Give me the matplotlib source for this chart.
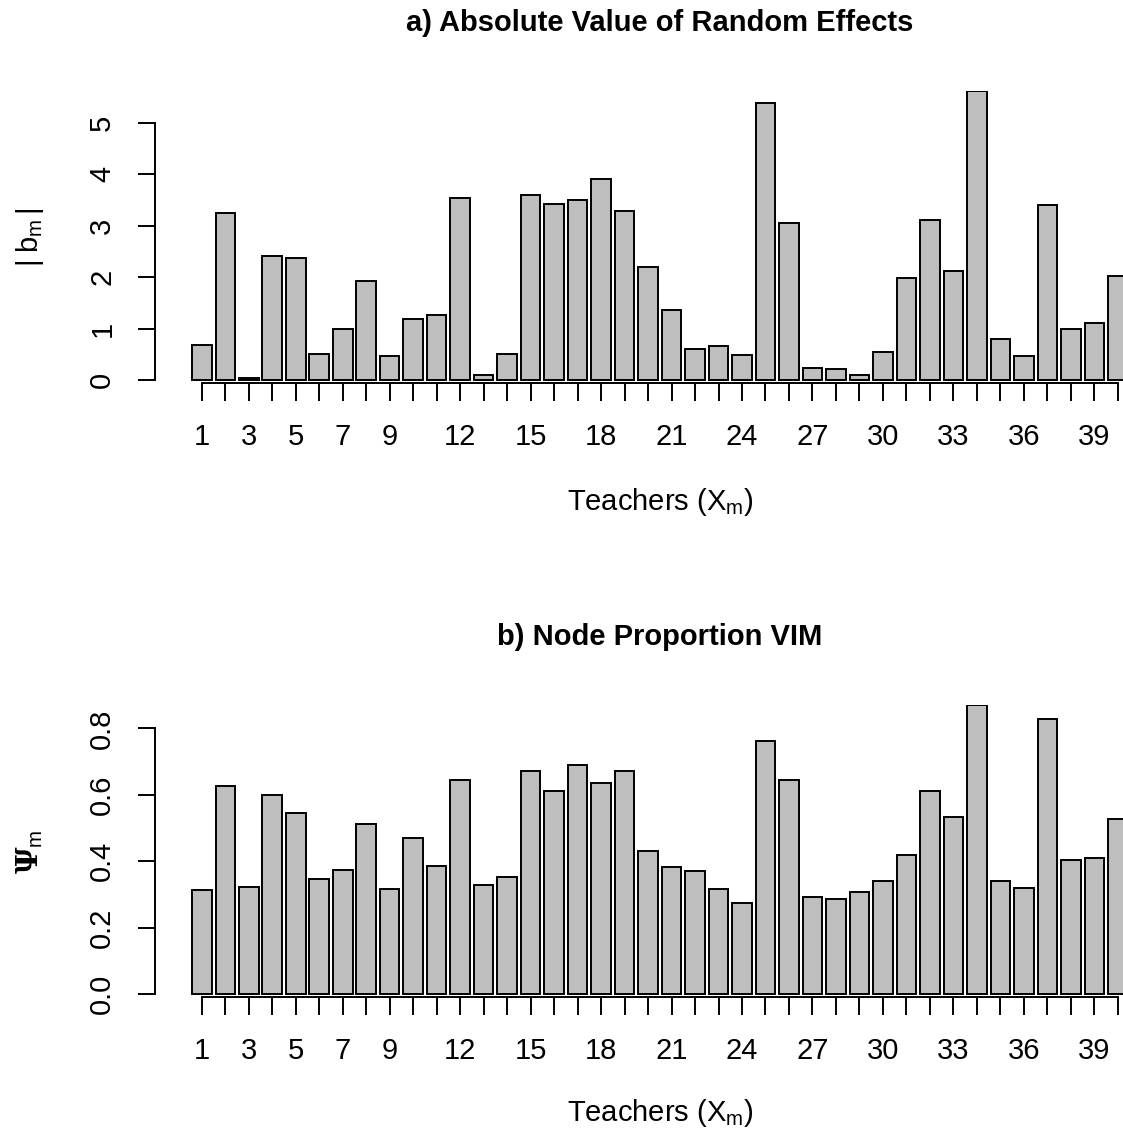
import numpy as np
import matplotlib
matplotlib.use("Agg")
import matplotlib.pyplot as plt

plt.rcParams['font.family'] = ['Liberation Sans', 'DejaVu Sans']
plt.rcParams['mathtext.fontset'] = 'custom'
plt.rcParams['mathtext.rm'] = 'Liberation Sans'
plt.rcParams['mathtext.it'] = 'Liberation Sans'
plt.rcParams['mathtext.bf'] = 'DejaVu Serif:bold'

# dados (40 professores)
teachers = list(range(1, 41))
abs_effects = [0.68, 3.25, 0.045, 2.41, 2.36, 0.50, 0.99, 1.93, 0.47, 1.18,
               1.26, 3.53, 0.09, 0.50, 3.60, 3.41, 3.49, 3.90, 3.29, 2.19,
               1.35, 0.61, 0.67, 0.49, 5.37, 3.04, 0.24, 0.21, 0.09, 0.55,
               1.99, 3.10, 2.12, 5.61, 0.80, 0.47, 3.40, 1.00, 1.10, 2.01]
node_prop = [0.315, 0.627, 0.322, 0.599, 0.546, 0.348, 0.373, 0.512, 0.318, 0.469,
             0.385, 0.645, 0.330, 0.353, 0.672, 0.612, 0.690, 0.635, 0.671, 0.431,
             0.383, 0.372, 0.318, 0.275, 0.761, 0.645, 0.294, 0.287, 0.307, 0.341,
             0.420, 0.611, 0.533, 0.869, 0.341, 0.320, 0.828, 0.404, 0.410, 0.527]
shown_labels = [1, 3, 5, 7, 9, 12, 15, 18, 21, 24, 27, 30, 33, 36, 39]

W, H = 1123, 1135
fig = plt.figure(figsize=(W / 100, H / 100), dpi=100)


def painel(rect, valores, yticks, yticklabels, ylabel, titulo, title_y, xlab_y):
    ax = fig.add_axes(rect)
    x = 0.7 + 1.2 * np.arange(len(valores))
    ax.bar(x, valores, width=1.0, color='#BEBEBE', edgecolor='black', linewidth=1.4)
    ax.set_xlim(-1.712, 49.912)
    ax.set_ylim(-0.01 * max(valores), max(valores))

    for s in ['top', 'right']:
        ax.spines[s].set_visible(False)
    ax.spines['left'].set_bounds(yticks[0], yticks[-1])
    ax.spines['bottom'].set_bounds(x[0], x[-1])
    ax.spines['left'].set_linewidth(1.4)
    ax.spines['bottom'].set_linewidth(1.4)

    ax.set_xticks(x)
    ax.set_xticklabels([str(t) if t in shown_labels else '' for t in teachers])
    ax.set_yticks(yticks)
    ax.set_yticklabels(yticklabels, rotation=90, va='center')
    ax.tick_params(axis='both', direction='out', length=12.6, width=1.4, labelsize=21)
    ax.tick_params(axis='x', pad=16)
    ax.tick_params(axis='y', pad=15)

    fig.text(660 / W, 1 - title_y / H, titulo, ha='center', va='center',
             fontsize=21, fontweight='bold')
    fig.text(660 / W, 1 - xlab_y / H, r'Teachers ($\mathregular{X_m}$)',
             ha='center', va='center', fontsize=21)
    yc = (rect[1] + rect[3] / 2)
    fig.text(30 / W, yc, ylabel, ha='center', va='center', rotation=90, fontsize=21)
    return ax


left = 154.6 / W
width = (1165 - 154.6) / W
height = (382.9 - 91.1) / H

painel([left, 1 - 382.9 / H, width, height], abs_effects,
       [0, 1, 2, 3, 4, 5], ['0', '1', '2', '3', '4', '5'],
       r'$\mathregular{|\;b_m\,|}$',
       'a) Absolute Value of Random Effects', 23, 502)

painel([left, 1 - 997.2 / H, width, height], node_prop,
       [0, 0.2, 0.4, 0.6, 0.8], ['0.0', '0.2', '0.4', '0.6', '0.8'],
       r'$\mathbf{\Psi}_{\mathregular{m}}$',
       'b) Node Proportion VIM', 637, 1113)

fig.savefig('out.png', dpi=100)
